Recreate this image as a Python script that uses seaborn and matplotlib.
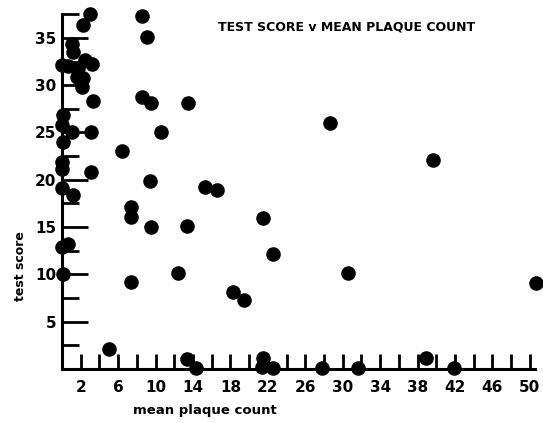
# Recreate: test score v mean plaque count scatter (old scanned chart)
import numpy as np
import pandas as pd
import matplotlib
matplotlib.use("Agg")
import matplotlib.pyplot as plt
import seaborn as sns
from matplotlib.ticker import FixedLocator

# values
plaque_count = [
    3.0, 2.2, 8.5, 9.1, 1.1, 1.2, 0.0, 0.6, 2.5, 3.2,
    1.7, 1.6, 2.2, 2.1, 3.3, 8.5, 9.5, 13.5, 0.1, 0.0,
    1.1, 3.1, 10.6, 0.1, 6.4, 0.0, 0.0, 3.1, 9.4, 0.0,
    1.2, 15.3, 16.6, 28.6, 39.6, 7.4, 7.4, 9.5, 13.4, 0.0,
    0.6, 21.5, 22.5, 0.1, 7.4, 12.4, 30.6, 50.7, 18.3, 19.4,
    5.0, 13.4, 14.3, 21.5, 21.4, 22.5, 27.8, 31.6, 38.9, 41.9,
]
test_score = [
    37.5, 36.4, 37.3, 35.1, 34.4, 33.5, 32.1, 32.0, 32.7, 32.2,
    31.8, 30.9, 30.8, 29.8, 28.3, 28.7, 28.1, 28.1, 26.9, 25.8,
    25.1, 25.1, 25.1, 24.0, 23.0, 21.9, 21.1, 20.8, 19.9, 19.1,
    18.4, 19.2, 18.9, 26.0, 22.1, 17.1, 16.1, 15.0, 15.1, 12.9,
    13.2, 16.0, 12.2, 10.0, 9.2, 10.2, 10.2, 9.1, 8.1, 7.3,
    2.1, 1.1, 0.1, 1.2, 0.2, 0.1, 0.1, 0.1, 1.2, 0.1,
]
x_tick_labels = [2, 6, 10, 14, 18, 22, 26, 30, 34, 38, 42, 46, 50]
x_minor_ticks = [4, 8, 12, 16, 20, 24, 28, 32, 36, 40, 44, 48]
y_tick_labels = [5, 10, 15, 20, 25, 30, 35]
y_minor_ticks = [2.5, 7.5, 12.5, 17.5, 22.5, 27.5, 32.5, 37.5]

df = pd.DataFrame({"plaque": plaque_count, "score": test_score})

sns.set_style("ticks")
plt.rcParams["font.family"] = ["DejaVu Sans"]
plt.rcParams["font.weight"] = "bold"
plt.rcParams["text.color"] = "black"

W, H = 543, 423
fig = plt.figure(figsize=(W / 100, H / 100), dpi=100)
ax = fig.add_axes([62 / W, 54 / H, (W - 62) / W, 359.5 / H])

sns.scatterplot(data=df, x="plaque", y="score", color="black", s=110,
                linewidth=0, ax=ax, clip_on=False, zorder=3)

ax.set_xlim(0, 51.4)
ax.set_ylim(0, 38)

for s in ["top", "right"]:
    ax.spines[s].set_visible(False)
for s in ["left", "bottom"]:
    ax.spines[s].set_linewidth(2.2)
    ax.spines[s].set_color("black")
ax.spines["left"].set_bounds(0, 37.5)
ax.spines["bottom"].set_bounds(0, 50.5)

ax.xaxis.set_major_locator(FixedLocator(x_tick_labels))
ax.xaxis.set_minor_locator(FixedLocator(x_minor_ticks))
ax.yaxis.set_major_locator(FixedLocator(y_tick_labels))
ax.yaxis.set_minor_locator(FixedLocator(y_minor_ticks))
ax.set_xticklabels([str(v) for v in x_tick_labels])
ax.set_yticklabels([str(v) for v in y_tick_labels])

ax.tick_params(axis="x", which="both", direction="in", length=11, width=2,
               pad=8, labelsize=11, colors="black", bottom=True)
ax.tick_params(axis="y", which="major", direction="in", length=19, width=2,
               pad=4, labelsize=11, colors="black", left=True)
ax.tick_params(axis="y", which="minor", direction="in", length=12, width=2,
               colors="black", left=True)

ax.set_xlabel("")
ax.set_ylabel("")
fig.text(205 / W, 1 - 410 / H, "mean plaque count", ha="center", va="center",
         fontsize=9.5, fontweight="bold")
fig.text(20 / W, 1 - 266 / H, "test score", ha="center", va="center",
         rotation=90, fontsize=9, fontweight="bold")
fig.text(347 / W, 1 - 27 / H, "TEST SCORE v MEAN PLAQUE COUNT", ha="center",
         va="center", fontsize=9, fontweight="bold")

fig.savefig("out.png", dpi=100)
